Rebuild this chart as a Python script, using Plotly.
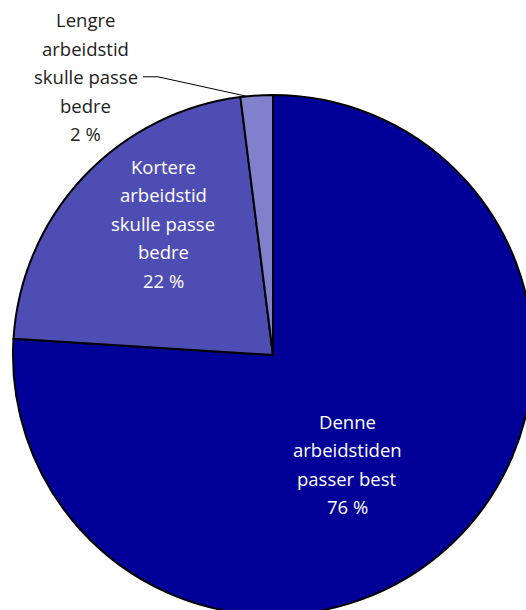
import math
import plotly.graph_objects as go

# ---- data ----
categories = [
    "Denne arbeidstiden passer best",
    "Kortere arbeidstid skulle passe bedre",
    "Lengre arbeidstid skulle passe bedre",
]
values = [76, 22, 2]
label_lines = [
    ["Denne", "arbeidstiden", "passer best"],
    ["Kortere", "arbeidstid", "skulle passe", "bedre"],
    ["Lengre", "arbeidstid", "skulle passe", "bedre"],
]

# ---- style ----
colors = ["#000099", "#4D4DB3", "#8080CC"]
text_colors = ["white", "white", "#222222"]
W, H = 546, 620          # figure slightly larger than the window, like the clipped original
CX, CY, R = 273, 355, 260  # pie centre / radius in pixels
label_pos = [(347, 421.5), (163, 166.5), (85.5, 20)]  # first-line centre of each label block
LINE_STEP = 28.4
FONT = "Open Sans"
FS = 18.5


def px(x):
    return x / W


def py(y):
    return 1 - y / H


fig = go.Figure(
    go.Pie(
        labels=categories,
        values=values,
        sort=False,
        direction="clockwise",
        rotation=0,
        textinfo="none",
        hoverinfo="label+percent",
        marker=dict(colors=colors, line=dict(color="black", width=2)),
        domain=dict(x=[px(CX - R), px(CX + R)], y=[py(CY + R), py(CY - R)]),
        showlegend=False,
    )
)

annotations = []
total = sum(values)
for i, (lines, v) in enumerate(zip(label_lines, values)):
    x0, y0 = label_pos[i]
    all_lines = lines + [f"{v} %"]
    for k, t in enumerate(all_lines):
        annotations.append(
            dict(
                x=px(x0), y=py(y0 + k * LINE_STEP), xref="paper", yref="paper",
                text=t, showarrow=False, xanchor="center", yanchor="middle",
                font=dict(family=FONT, size=FS, color=text_colors[i]),
            )
        )

# leader line for the small outside label: to a point on the smallest slice's arc
cum = sum(values[:2])
anchor_angle = (cum + values[2] * 0.2) / total * 2 * math.pi
ex = CX + R * math.sin(anchor_angle)
ey = CY - R * math.cos(anchor_angle)
lx, ly = label_pos[2][0] + 57.5, label_pos[2][1] + 2 * LINE_STEP
shapes = [
    dict(
        type="path", xref="paper", yref="paper",
        path=f"M {px(lx)},{py(ly)} L {px(lx + 15)},{py(ly)} L {px(ex)},{py(ey)}",
        line=dict(color="black", width=1),
    )
]

fig.update_layout(
    width=W, height=H,
    margin=dict(l=0, r=0, t=0, b=0),
    paper_bgcolor="white",
    plot_bgcolor="white",
    annotations=annotations,
    shapes=shapes,
)

fig.write_html(
    "out.html",
    config={"displayModeBar": False},
    post_script="document.body.style.margin='0';document.body.style.overflow='hidden';"
    "document.documentElement.style.overflow='hidden';",
)
